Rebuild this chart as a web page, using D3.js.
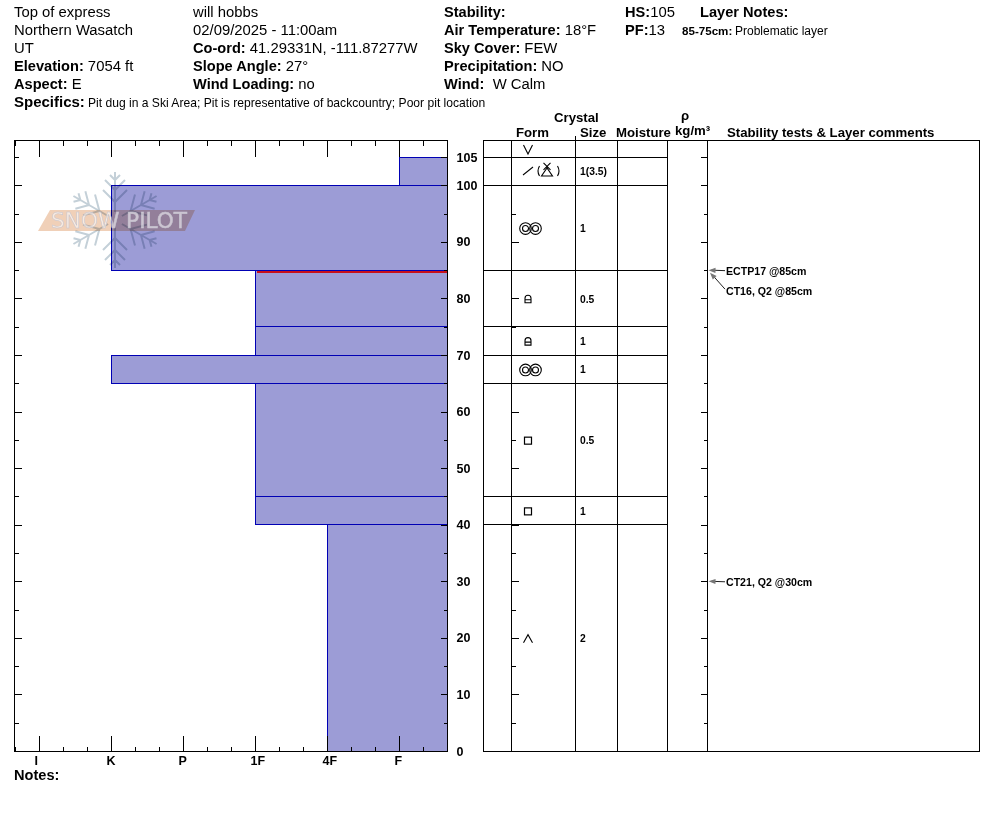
<!DOCTYPE html>
<html><head><meta charset="utf-8">
<script src="https://cdn.jsdelivr.net/npm/d3@7"></script>
<style>
html,body{margin:0;padding:0;background:#fff}
svg{display:block;font-family:"Liberation Sans",Arial,sans-serif}
text{fill:#000}
</style></head><body><div id="chart"></div>
<script>
// ---- data ----
const hardnessLabels = ["I","K","P","1F","4F","F"];
const layerBottoms = [100,85,75,70,65,45,40,0];
const layerTops    = [105,100,85,75,70,65,45,40];
const layerHardness= ["F","K","1F","1F","K","1F","1F","4F"];
const layerForms   = ["precip","rounds","roundFacet","roundFacet","rounds","facet","facet","depthHoar"];
const layerSizes   = ["1(3.5)","1","0.5","1","1","0.5","1","2"];
const snowHeight = 105;
const surfaceForm = "surfaceHoar";
const weakLayerDepth = 85;
const depthLabels = [0,10,20,30,40,50,60,70,80,90,100,105];
const minorDepths = [5,15,25,35,45,55,65,75,85,95];
const testLabels = ["ECTP17 @85cm","CT16, Q2 @85cm","CT21, Q2 @30cm"];
const testDepths = [85,85,30];
const testRows   = [0,1,0];
const headerLeft = [["","Top of express"],["","Northern Wasatch"],["","UT"],["Elevation:","7054 ft"],["Aspect:","E"]];
const headerMid  = [["","will hobbs"],["","02/09/2025 - 11:00am"],["Co-ord:","41.29331N, -111.87277W"],["Slope Angle:","27°"],["Wind Loading:","no"]];
const headerRight= [["Stability:",""],["Air Temperature:","18°F"],["Sky Cover:","FEW"],["Precipitation:","NO"],["Wind:"," W Calm"]];
const specifics = "Pit dug in a Ski Area; Pit is representative of backcountry; Poor pit location";

// ---- layout ----
const W=994,H=840, plotTop=140, plotBottom=751, plotLeft=15, plotRight=447;
const colX={a:483,b:511,c:575,d:617,e:667,f:707,g:979};
const svg=d3.select("#chart").append("svg").attr("width",W).attr("height",H);
const root=svg.append("g").attr("transform","translate(0.5,0.5)").attr("shape-rendering","crispEdges");

const y=d3.scaleLinear().domain([0,100]).range([750.5,184.8]);
const x=d3.scaleLinear().domain([-1/3,17/3]).range([plotLeft,plotRight]);
const hx=d=>x(hardnessLabels.indexOf(d));
const hardTicks=d3.range(hardnessLabels.length).map(i=>i);
const hardMinor=d3.range(-1/3,5.6,1/3).filter(v=>Math.abs(v-Math.round(v))>0.01);

// ---- bars ----
const barFill="#9c9cd6", barLine="#0000b4";
root.selectAll("rect.layer").data(layerTops).join("rect").attr("class","layer")
  .attr("x",(d,i)=>hx(layerHardness[i])).attr("y",d=>y(d))
  .attr("width",(d,i)=>x.range()[1]-hx(layerHardness[i]))
  .attr("height",(d,i)=>y(layerBottoms[i])-y(d))
  .attr("fill",barFill).attr("stroke",barLine);
const weakIdx=layerTops.indexOf(weakLayerDepth);
root.append("rect").attr("x",hx(layerHardness[weakIdx])+1).attr("y",y(weakLayerDepth)+1)
  .attr("width",plotRight-hx(layerHardness[weakIdx])-1).attr("height",2).attr("fill","#c8101c").attr("stroke","none");

// ---- logo ----
const logo=svg.append("g").attr("transform","translate(115,220)");
const flake=logo.append("g").style("mix-blend-mode","multiply").attr("stroke","#c4d0d8").attr("fill","none").attr("stroke-width",2);
[0,60,120,180,240,300].forEach(a=>{
  const g=flake.append("g").attr("transform",`rotate(${a})`);
  g.append("path").attr("d","M0,-8V-48M0,-18L-12,-30M0,-18L12,-30M0,-30L-10,-40M0,-30L10,-40M0,-40L-5,-45M0,-40L5,-45");
});
logo.append("path").attr("d","M-77,11L-65,-10H80L70,11Z").attr("fill","#f0d0b8").style("mix-blend-mode","multiply");
logo.append("text").attr("x",-64).attr("y",8).attr("textLength",136).attr("lengthAdjust","spacingAndGlyphs")
  .attr("font-size",21).attr("font-family","DejaVu Sans").style("fill","#fff").attr("fill-opacity",.55).attr("stroke","#c4c4d0").attr("stroke-width",.5).text("SNOW PILOT");

// ---- hardness plot frame & axes ----
root.append("rect").attr("x",plotLeft-1).attr("y",plotTop).attr("width",plotRight-plotLeft+1).attr("height",plotBottom-plotTop).attr("fill","none").attr("stroke","#000");
const tx=(sel,axis)=>sel.call(axis).call(g=>g.select(".domain").remove()).call(g=>g.selectAll("text").remove()).call(g=>g.selectAll("line").attr("stroke","#000"));
root.append("g").attr("transform",`translate(-0.5,${plotTop})`).call(g=>tx(g,d3.axisBottom(x).tickValues(hardTicks).tickSize(16)));
root.append("g").attr("transform",`translate(-0.5,${plotTop})`).call(g=>tx(g,d3.axisBottom(x).tickValues(hardMinor).tickSize(5)));
root.append("g").attr("transform",`translate(-0.5,${plotBottom})`).call(g=>tx(g,d3.axisTop(x).tickValues(hardTicks).tickSize(16)));
root.append("g").attr("transform",`translate(-0.5,${plotBottom})`).call(g=>tx(g,d3.axisTop(x).tickValues(hardMinor).tickSize(5)));

const major=depthLabels.filter(d=>d%10===0), majorR=depthLabels;
[[plotLeft-1,d3.axisRight,major,minorDepths.concat([105])],[plotRight,d3.axisLeft,majorR,minorDepths],[colX.b,d3.axisRight,majorR,minorDepths],[colX.f,d3.axisLeft,majorR,minorDepths]].forEach(([px,ax,big,small])=>{
  root.append("g").attr("transform",`translate(${px},0)`).call(g=>tx(g,ax(y).tickValues(big).tickSize(7)));
  root.append("g").attr("transform",`translate(${px},0)`).call(g=>tx(g,ax(y).tickValues(small).tickSize(4)));
});

// axis labels (real text, via d3 axes)
const lab=svg.append("g").attr("font-weight","bold").attr("font-size",12.5);
svg.append("g").attr("transform",`translate(456.5,0.5)`).call(d3.axisRight(y).tickValues(depthLabels).tickSize(0).tickPadding(0))
  .call(g=>g.select(".domain").remove()).call(g=>g.selectAll("text").attr("font-family",'"Liberation Sans"').attr("font-size",12.5).attr("font-weight","bold").style("fill","#000"));
lab.selectAll("text.h").data(hardnessLabels).join("text").attr("class","h")
  .attr("x",(d,i)=>x(i)-4.5).attr("y",764.5).text(d=>d);

// ---- right panel ----
root.append("rect").attr("x",colX.a).attr("y",plotTop).attr("width",colX.g-colX.a).attr("height",plotBottom-plotTop).attr("fill","none").attr("stroke","#000");
root.selectAll("line.col").data([colX.b,colX.c,colX.d,colX.e,colX.f]).join("line").attr("class","col")
  .attr("x1",d=>d).attr("x2",d=>d).attr("y1",plotTop).attr("y2",plotBottom).attr("stroke","#000");
root.append("line").attr("x1",colX.c).attr("x2",colX.c).attr("y1",135).attr("y2",plotTop).attr("stroke","#000");
root.selectAll("line.row").data([snowHeight,...layerBottoms.filter(d=>d>0)]).join("line").attr("class","row")
  .attr("x1",colX.a).attr("x2",colX.e).attr("y1",d=>y(d)).attr("y2",d=>y(d)).attr("stroke","#000");

// ---- grain symbols ----
const symbols=svg.append("g").attr("fill","none").attr("stroke","#000").attr("stroke-width",1.1);
function drawForm(name,depth){
  const g=symbols.append("g").attr("transform",`translate(528,${y(depth)+1.3})`);
  if(name==="surfaceHoar") g.append("path").attr("d","M-4.5,-4.5L0,4.5L4.5,-4.5");
  if(name==="depthHoar")   g.append("path").attr("d","M-4.5,4L0,-4L4.5,4");
  if(name==="facet") g.append("rect").attr("x",-3.5).attr("y",-3.5).attr("width",7).attr("height",7).attr("stroke-width",1.2);
  if(name==="roundFacet") g.append("path").attr("d","M-3,3.5V-1A3,3 0 0 1 3,-1V3.5ZM-3,0.5H3");
  if(name==="rounds") [-2.5,7.5].forEach(c=>{
    g.append("circle").attr("cx",c).attr("r",5.8);
    g.append("circle").attr("cx",c).attr("r",3);
  });
  if(name==="precip"){
    g.append("path").attr("d","M-5,3L5,-5");
    g.append("path").attr("d","M11.5,-6Q8.5,-1 11.5,4M29.5,-6Q32.5,-1 29.5,4");
    g.append("path").attr("d","M19,-4L13.5,4H24.5ZM15.5,-9L22.5,-2M22.5,-9L15.5,-2");
  }
}
drawForm(surfaceForm,(snowHeight+y.invert(plotTop))/2);
layerForms.forEach((f,i)=>drawForm(f,(layerTops[i]+layerBottoms[i])/2));

// sizes
svg.append("g").attr("font-weight","bold").attr("font-size",10.3).selectAll("text").data(layerSizes).join("text")
  .attr("x",580).attr("y",(d,i)=>y((layerTops[i]+layerBottoms[i])/2)+4.7).text(d=>d);

// ---- stability tests ----
const tests=svg.append("g");
testLabels.forEach((t,i)=>{
  const ly=y(testDepths[i])+1.5+testRows[i]*20, ay=y(testDepths[i])+(testRows[i]?3:0.5), ax=colX.f+(testRows[i]?3:1.5);
  const ex=725, ey=ly-(testRows[i]?2:0.5);
  tests.append("line").attr("x1",ex).attr("y1",ey).attr("x2",ax+3).attr("y2",ay+(testRows[i]?3:0)).attr("stroke","#222");
  const ang=Math.atan2(ey-ay,ex-ax)*180/Math.PI;
  tests.append("path").attr("d","M0,0L7,-2.6V2.6Z").attr("fill","#777").attr("transform",`translate(${ax},${ay}) rotate(${ang})`);
  tests.append("text").attr("x",726).attr("y",ly+3.5).attr("font-size",10.6).attr("font-weight","bold").text(t);
});

// ---- headers ----
const head=svg.append("g").attr("font-size",14.85);
function kv(px,rows){
  rows.forEach((r,i)=>{
    const t=head.append("text").attr("x",px).attr("y",17+i*18).style("white-space","pre");
    if(r[0]) t.append("tspan").attr("font-weight","bold").attr("font-size",14.6).text(r[0]);
    if(r[1]) t.append("tspan").text((r[0]?" ":"")+r[1]);
  });
}
kv(14,headerLeft); kv(193,headerMid); kv(444,headerRight);
const t1=head.append("text").attr("x",625).attr("y",17);
t1.append("tspan").attr("font-weight","bold").attr("font-size",14.6).text("HS:"); t1.append("tspan").text("105");
const t2=head.append("text").attr("x",625).attr("y",35);
t2.append("tspan").attr("font-weight","bold").attr("font-size",14.6).text("PF:"); t2.append("tspan").text("13");
head.append("text").attr("x",700).attr("y",17).attr("font-weight","bold").attr("font-size",14.6).text("Layer Notes:");
head.append("text").attr("x",682).attr("y",35).attr("font-size",11.6).attr("font-weight","bold").text("85-75cm:");
head.append("text").attr("x",735).attr("y",35).attr("font-size",12).text("Problematic layer");
head.append("text").attr("x",14).attr("y",107).attr("font-weight","bold").attr("font-size",15).text("Specifics:");
head.append("text").attr("x",88).attr("y",107).attr("font-size",12.1).text(specifics);
head.append("text").attr("x",14).attr("y",779.5).attr("font-weight","bold").attr("font-size",14.6).text("Notes:");

const ch=svg.append("g").attr("font-weight","bold").attr("font-size",13.2);
[["Crystal",554,122],["Form",516,137],["Size",580,137],["Moisture",616,137],["ρ",681,120],["kg/m³",675,135],["Stability tests & Layer comments",727,137]]
 .forEach(c=>ch.append("text").attr("x",c[1]).attr("y",c[2]).text(c[0]));
</script></body></html>
